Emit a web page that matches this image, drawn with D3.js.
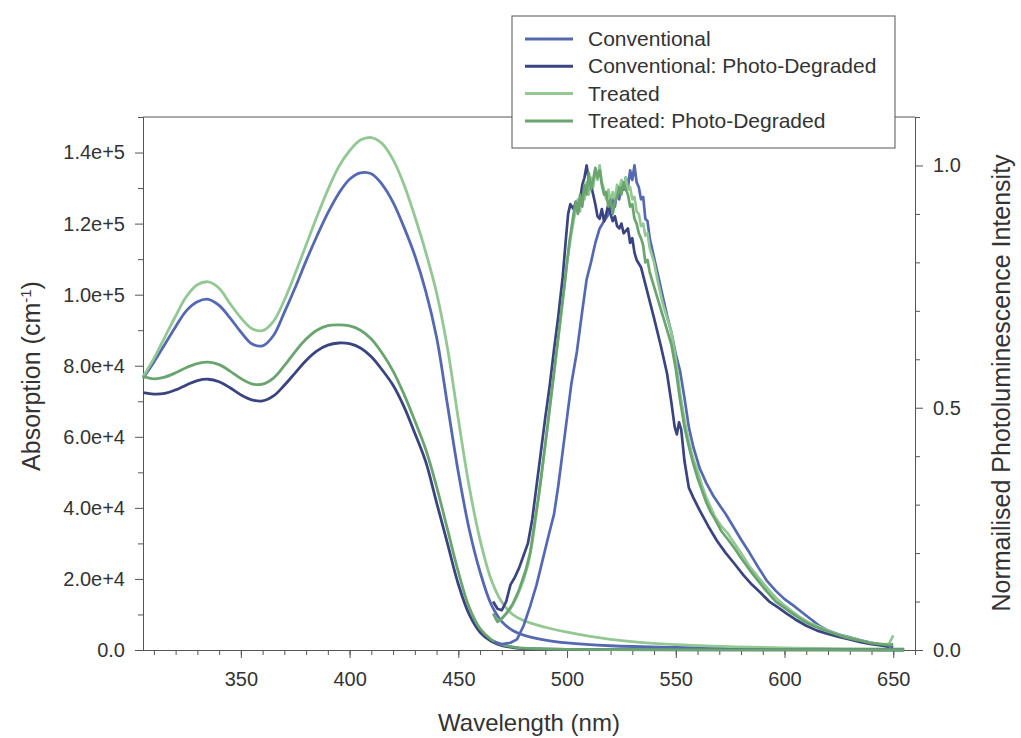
<!DOCTYPE html>
<html>
<head>
<meta charset="utf-8">
<script src="https://cdn.jsdelivr.net/npm/d3@7"></script>
<style>
  body { margin: 0; background: #fff; }
  svg { font-family: "Liberation Sans", Arial, sans-serif; }
  .axis path, .axis line { stroke: #555; }
  .axis text { fill: #333; font-size: 20px; }
</style>
</head>
<body>
<div id="chart"></div>
<script>
// absorption, common wavelength grid (nm)
var absWavelength = [305,310,315,320,325,330,335,340,345,350,355,360,365,370,375,380,385,390,395,400,405,410,415,420,425,430,435,440,445,450,455,460,465,470,475,480,490,500,520,550,600,655];
var absConventional = [76500,81000,86000,91000,95500,98000,98700,97000,93500,89500,86200,85600,88500,95000,102000,109500,116500,123000,128500,132500,134300,134000,131000,126000,119000,111000,101000,88000,69000,50000,34000,22000,13000,8000,5500,4200,2800,2000,1200,700,300,100];
var absConvDegraded = [72400,72000,72200,73200,74600,75800,76200,75500,73800,71800,70400,70100,71500,74500,78000,81500,84200,85800,86400,86200,85000,82500,78800,74500,68500,61000,53000,41500,30000,18500,10000,5000,2500,1200,700,400,250,150,80,50,20,0];
var absTreated = [76900,82000,88000,94000,99500,102800,103600,101800,97500,93500,90500,89900,92500,98500,106000,114000,122000,129500,136000,140500,143500,144200,142500,138000,131000,122000,112000,100500,85000,65000,46000,31000,20000,13500,10000,8300,6400,5000,3000,1500,600,300];
var absTreatedDegraded = [77000,76300,76800,78000,79500,80600,81000,80300,78500,76400,74900,74800,76500,80000,84000,87500,90000,91300,91500,91200,90000,87500,83500,78500,72000,64500,56500,46000,34000,22000,12000,6000,3000,1500,900,500,300,200,120,80,30,0];

// normalised photoluminescence, [wavelength, intensity]
var plConventional = [[466.5,0.017],[470,0.012],[474,0.015],[477,0.022],[480,0.05],[483,0.09],[486,0.135],[489,0.19],[492,0.245],[494,0.28],[496,0.34],[498,0.41],[500,0.48],[502,0.55],[504.5,0.615],[507,0.70],[509,0.765],[511,0.80],[513,0.84],[515,0.87],[517,0.885],[518.5,0.895],[520,0.91],[521,0.93],[522,0.915],[523,0.945],[524,0.93],[525,0.96],[526,0.95],[527,0.975],[528,0.955],[529,0.99],[530,0.97],[531,1.0],[532,0.965],[533,0.955],[534,0.93],[535,0.935],[536,0.89],[537,0.885],[538,0.85],[540,0.81],[542,0.77],[544,0.73],[546,0.69],[548,0.655],[550,0.61],[552,0.575],[554,0.52],[556,0.46],[558,0.42],[561,0.375],[564,0.345],[567,0.32],[570,0.3],[573,0.28],[576,0.258],[580,0.228],[584,0.2],[588,0.17],[592,0.142],[596,0.122],[600,0.105],[604,0.092],[608,0.078],[612,0.064],[616,0.05],[620,0.04],[625,0.032],[630,0.026],[635,0.02],[640,0.015],[645,0.01],[650,0.006]];
var plConvDegraded = [[466,0.10],[468,0.085],[470,0.082],[472,0.1],[474,0.135],[476,0.15],[478,0.17],[480,0.195],[482,0.22],[484,0.27],[486,0.34],[488,0.41],[490,0.48],[492,0.545],[494,0.62],[496,0.69],[498,0.77],[499.5,0.85],[500.5,0.9],[501.5,0.92],[503,0.91],[504,0.925],[505,0.905],[506,0.93],[507,0.96],[508,0.975],[509,1.0],[510,0.97],[511,0.96],[512,0.94],[513,0.92],[514,0.895],[515,0.89],[516,0.91],[517,0.885],[518,0.9],[519,0.92],[520,0.9],[521,0.885],[522,0.895],[523,0.875],[524,0.87],[525,0.88],[526,0.86],[527,0.865],[528,0.87],[529,0.84],[530,0.85],[531,0.82],[532,0.805],[534,0.79],[536,0.755],[538,0.72],[540,0.685],[543,0.63],[546,0.57],[548,0.51],[549.5,0.46],[550.5,0.445],[551.5,0.47],[552.5,0.455],[554,0.39],[556,0.335],[558,0.315],[561,0.288],[565,0.255],[569,0.225],[573,0.2],[577,0.178],[581,0.155],[585,0.135],[589,0.118],[593,0.1],[597,0.088],[601,0.075],[605,0.063],[610,0.05],[615,0.04],[620,0.033],[625,0.027],[630,0.022],[635,0.016],[640,0.012],[645,0.009],[648,0.007]];
var plTreated = [[467,0.065],[469,0.06],[471,0.07],[474,0.085],[477,0.11],[480,0.145],[482,0.175],[484,0.22],[486,0.285],[488,0.35],[490,0.425],[492,0.5],[494,0.57],[496,0.645],[498,0.72],[500,0.8],[502,0.86],[504,0.91],[505,0.93],[506,0.905],[507,0.95],[508,0.93],[509,0.965],[510,0.94],[511,0.975],[512,0.955],[513,0.99],[514,0.97],[515,1.0],[516,0.965],[517,0.95],[518,0.93],[519,0.95],[520,0.925],[521,0.945],[522,0.93],[523,0.96],[524,0.95],[525,0.97],[526,0.955],[527,0.975],[528,0.95],[529,0.955],[530,0.93],[531,0.935],[532,0.905],[533,0.9],[534,0.875],[535,0.88],[536,0.855],[537,0.86],[538,0.83],[540,0.8],[542,0.755],[544,0.715],[546,0.685],[548,0.655],[550,0.6],[552,0.53],[554,0.475],[556,0.43],[558,0.395],[560,0.37],[562,0.34],[564,0.315],[566,0.295],[568,0.275],[571,0.255],[574,0.24],[577,0.22],[580,0.2],[584,0.172],[588,0.15],[592,0.128],[596,0.108],[600,0.092],[604,0.078],[608,0.065],[612,0.055],[616,0.048],[620,0.04],[624,0.033],[628,0.028],[632,0.023],[636,0.018],[640,0.015],[644,0.012],[648,0.012],[650,0.03]];
var plTreatedDegraded = [[466,0.075],[468,0.058],[470,0.065],[472,0.075],[475,0.095],[478,0.125],[481,0.165],[483,0.2],[485,0.26],[487,0.32],[489,0.39],[491,0.46],[493,0.535],[495,0.61],[497,0.685],[499,0.76],[501,0.84],[503,0.9],[504,0.925],[505,0.9],[506,0.94],[507,0.915],[508,0.96],[509,0.94],[510,0.985],[511,0.95],[512,0.97],[513,0.995],[514,0.975],[515,0.99],[516,0.96],[517,0.94],[518,0.945],[519,0.915],[520,0.93],[521,0.9],[522,0.925],[523,0.935],[524,0.955],[525,0.94],[526,0.965],[527,0.95],[528,0.94],[529,0.915],[530,0.92],[531,0.89],[532,0.88],[533,0.86],[534,0.85],[535,0.835],[536,0.8],[537,0.805],[538,0.78],[540,0.75],[542,0.72],[544,0.69],[546,0.66],[548,0.63],[550,0.58],[552,0.515],[554,0.46],[556,0.42],[558,0.385],[560,0.355],[562,0.33],[564,0.305],[566,0.285],[568,0.27],[571,0.245],[574,0.228],[577,0.21],[580,0.19],[584,0.165],[588,0.142],[592,0.12],[596,0.1],[600,0.087],[604,0.074],[608,0.062],[612,0.052],[616,0.045],[620,0.038],[624,0.032],[628,0.026],[632,0.022],[636,0.018],[640,0.014],[644,0.012],[648,0.01],[650,0.012]];

var seriesNames = ["Conventional", "Conventional: Photo-Degraded", "Treated", "Treated: Photo-Degraded"];
var xMajorTicks = [350, 400, 450, 500, 550, 600, 650];
var yLeftTicks = [0, 20000, 40000, 60000, 80000, 100000, 120000, 140000];
var yRightTicks = [0, 0.5, 1.0];

//COLOURS
var COLOUR_CONV = "#5569b2";
var COLOUR_CONV_DEG = "#3a4480";
var COLOUR_TREATED = "#93c894";
var COLOUR_TREATED_DEG = "#6aa46f";
var colours = [COLOUR_CONV, COLOUR_CONV_DEG, COLOUR_TREATED, COLOUR_TREATED_DEG];

var W = 1021, H = 738;
var plotLeft = 143, plotRight = 915, plotTop = 117, plotBottom = 650;

var svg = d3.select("#chart").append("svg").attr("width", W).attr("height", H);

var x = d3.scaleLinear().domain([305, 660]).range([plotLeft, plotRight]);
var y = d3.scaleLinear().domain([0, 150000]).range([plotBottom, plotTop]);
var y2 = d3.scaleLinear().domain([0, 1.1]).range([plotBottom, plotTop]);

// frame top
svg.append("line").attr("x1", plotLeft).attr("x2", plotRight).attr("y1", plotTop).attr("y2", plotTop)
  .attr("stroke", "#555");

// bottom axis
svg.append("g").attr("class", "axis").attr("transform", "translate(0," + plotBottom + ")")
  .call(d3.axisBottom(x).tickValues(d3.range(310, 661, 10)).tickSize(5).tickFormat("").tickSizeOuter(0));
svg.append("g").attr("class", "axis").attr("transform", "translate(0," + plotBottom + ")")
  .call(d3.axisBottom(x).tickValues(xMajorTicks).tickSize(8).tickPadding(14).tickSizeOuter(0));

// left axis
svg.append("g").attr("class", "axis").attr("transform", "translate(" + plotLeft + ",0)")
  .call(d3.axisLeft(y).tickValues(d3.range(10000, 150001, 20000)).tickSize(5).tickFormat("").tickSizeOuter(0));
svg.append("g").attr("class", "axis").attr("transform", "translate(" + plotLeft + ",0)")
  .call(d3.axisLeft(y).tickValues(yLeftTicks).tickSize(8).tickPadding(10).tickSizeOuter(0)
    .tickFormat(function(d) { return d === 0 ? "0.0" : d3.format(".1e")(d); }));

// right axis
svg.append("g").attr("class", "axis").attr("transform", "translate(" + plotRight + ",0)")
  .call(d3.axisRight(y2).tickValues([0.1,0.2,0.3,0.4,0.6,0.7,0.8,0.9,1.1]).tickSize(5).tickFormat("").tickSizeOuter(0));
svg.append("g").attr("class", "axis").attr("transform", "translate(" + plotRight + ",0)")
  .call(d3.axisRight(y2).tickValues(yRightTicks).tickSize(8).tickPadding(10).tickSizeOuter(0)
    .tickFormat(d3.format(".1f")));

// axis titles
svg.append("text").attr("x", (plotLeft + plotRight) / 2).attr("y", 731).attr("text-anchor", "middle")
  .attr("font-size", 24).attr("fill", "#333").text("Wavelength (nm)");

var yt = svg.append("text").attr("transform", "translate(40,376) rotate(-90)")
  .attr("text-anchor", "middle").attr("font-size", 25).attr("fill", "#333");
yt.append("tspan").text("Absorption (cm");
yt.append("tspan").attr("dy", -9).attr("font-size", 15).text("-1");
yt.append("tspan").attr("dy", 9).text(")");

svg.append("text").attr("transform", "translate(1010,383) rotate(-90)")
  .attr("text-anchor", "middle").attr("font-size", 25).attr("fill", "#333")
  .text("Normailised Photoluminescence Intensity");

// lines
var absLine = d3.line()
  .x(function(d) { return x(d[0]); })
  .y(function(d) { return y(d[1]); })
  .curve(d3.curveCatmullRom.alpha(0.5));

var plLine = d3.line()
  .x(function(d) { return x(d[0]); })
  .y(function(d) { return y2(d[1]); })
  .curve(d3.curveLinear);

var absSets = [absConventional, absConvDegraded, absTreated, absTreatedDegraded];
var plSets = [plConventional, plConvDegraded, plTreated, plTreatedDegraded];
var order = [0, 2, 1, 3];

order.forEach(function(i) {
  var pts = absWavelength.map(function(w, k) { return [w, absSets[i][k]]; });
  svg.append("path").datum(pts)
    .attr("fill", "none").attr("stroke", colours[i]).attr("stroke-width", 2.8)
    .attr("d", absLine);
});

order.forEach(function(i) {
  svg.append("path").datum(plSets[i])
    .attr("fill", "none").attr("stroke", colours[i]).attr("stroke-width", 2.7)
    .attr("stroke-linejoin", "round")
    .attr("d", plLine);
});

// legend
var lg = svg.append("g");
lg.append("rect").attr("x", 512).attr("y", 16).attr("width", 383).attr("height", 132)
  .attr("fill", "#fff").attr("stroke", "#555");
seriesNames.forEach(function(name, i) {
  var ly = 39 + i * 27.3;
  lg.append("line").attr("x1", 525).attr("x2", 573).attr("y1", ly).attr("y2", ly)
    .attr("stroke", colours[i]).attr("stroke-width", 3);
  lg.append("text").attr("x", 588).attr("y", ly + 7).attr("font-size", 21).attr("fill", "#333").text(name);
});
</script>
</body>
</html>
